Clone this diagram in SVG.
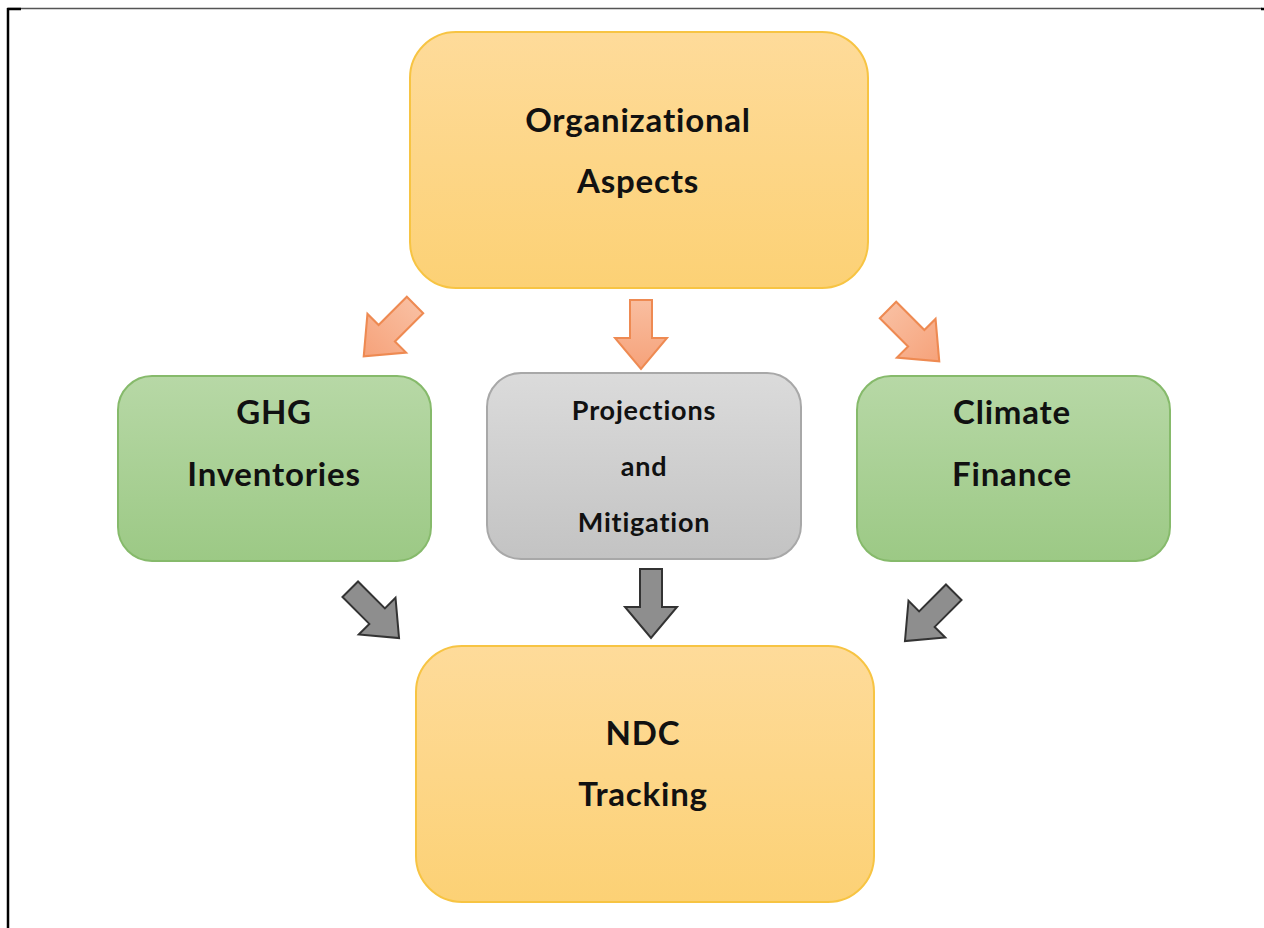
<svg xmlns="http://www.w3.org/2000/svg" width="1264" height="928" viewBox="0 0 1264 928">
<defs>
<linearGradient id="gy" x1="0" y1="0" x2="0" y2="1"><stop offset="0" stop-color="#FEDB9A"/><stop offset="1" stop-color="#FCD175"/></linearGradient>
<linearGradient id="gg" x1="0" y1="0" x2="0" y2="1"><stop offset="0" stop-color="#B7D8A6"/><stop offset="1" stop-color="#9CC985"/></linearGradient>
<linearGradient id="gr" x1="0" y1="0" x2="0" y2="1"><stop offset="0" stop-color="#DBDBDB"/><stop offset="1" stop-color="#C3C3C3"/></linearGradient>
<linearGradient id="go" x1="0" y1="0" x2="0" y2="1"><stop offset="0" stop-color="#F9BEA0"/><stop offset="1" stop-color="#F6A27A"/></linearGradient>
<path id="arr" d="M-11,-35 L11,-35 L11,3 L26,3 L0,34 L-26,3 L-11,3 Z"/>
</defs>
<style>
.t{font-family:Lato,"Noto Sans",sans-serif;font-weight:bold;fill:#111;text-anchor:middle;letter-spacing:0.8px}
.big{font-size:33px}
.mid{font-size:27px}
.y{fill:url(#gy);stroke:#F7C443;stroke-width:2}
.g{fill:url(#gg);stroke:#86BA6B;stroke-width:2}
.r{fill:url(#gr);stroke:#A8A8A8;stroke-width:2}
.ao{fill:url(#go);stroke:#EE8A52;stroke-width:2}
.ag{fill:#8E8E8E;stroke:#333;stroke-width:2}
</style>
<rect width="1264" height="928" fill="#fff"/>
<g id="frame">
<line x1="8" y1="8.5" x2="1262" y2="8.5" stroke="#555" stroke-width="1.5"/>
<line x1="8" y1="8" x2="8" y2="928" stroke="#000" stroke-width="2.5"/>
<line x1="7" y1="9" x2="21" y2="9" stroke="#000" stroke-width="2.5"/>
<line x1="1261" y1="9" x2="1264" y2="9" stroke="#000" stroke-width="2.5"/>
</g>
<g id="org">
<rect class="y" x="410" y="32" width="458" height="256" rx="46"/>
<text class="t big" x="638" y="132">Organizational</text>
<text class="t big" x="638" y="193">Aspects</text>
</g>
<g id="ghg">
<rect class="g" x="118" y="376" width="313" height="185" rx="34"/>
<text class="t big" x="274" y="424">GHG</text>
<text class="t big" x="274" y="486">Inventories</text>
</g>
<g id="proj">
<rect class="r" x="487" y="373" width="314" height="186" rx="34"/>
<text class="t mid" x="644" y="420">Projections</text>
<text class="t mid" x="644" y="476">and</text>
<text class="t mid" x="644" y="532">Mitigation</text>
</g>
<g id="climate">
<rect class="g" x="857" y="376" width="313" height="185" rx="34"/>
<text class="t big" x="1012" y="424">Climate</text>
<text class="t big" x="1012" y="486">Finance</text>
</g>
<g id="ndc">
<rect class="y" x="416" y="646" width="458" height="256" rx="46"/>
<text class="t big" x="643" y="745">NDC</text>
<text class="t big" x="643" y="806">Tracking</text>
</g>
<g id="connectors">
<use href="#arr" class="ao" transform="translate(389,331) rotate(45) scale(1.05)"/>
<use href="#arr" class="ao" transform="translate(641,335)"/>
<use href="#arr" class="ao" transform="translate(914,336) rotate(-45) scale(1.05)"/>
<use href="#arr" class="ag" transform="translate(375,614) rotate(-45)"/>
<use href="#arr" class="ag" transform="translate(651,604)"/>
<use href="#arr" class="ag" transform="translate(929,617) rotate(45)"/>
</g>
</svg>
